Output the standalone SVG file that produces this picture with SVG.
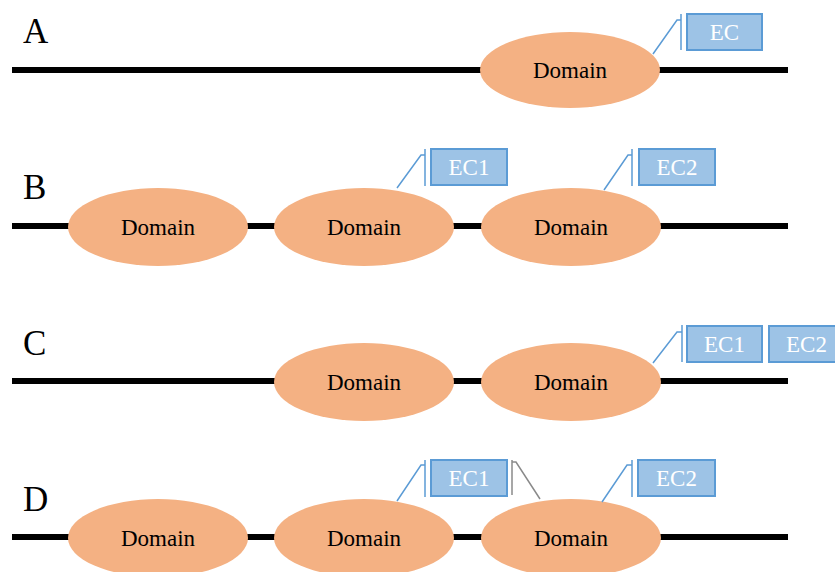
<svg xmlns="http://www.w3.org/2000/svg" width="835" height="572" viewBox="0 0 835 572">
<style>
.bb{stroke:#000;stroke-width:6;fill:none}
.dom ellipse{fill:#F4B183;stroke:none}
.dom text{font-family:"Liberation Serif",serif;font-size:23px;fill:#000;text-anchor:middle}
.lbl{font-family:"Liberation Serif",serif;font-size:35px;fill:#000}
.ec rect{fill:#9DC3E6;stroke:#5B9BD5;stroke-width:2}
.ec text{font-family:"Liberation Serif",serif;font-size:23px;fill:#fff;text-anchor:middle}
.co{stroke:#5B9BD5;stroke-width:1.5;fill:none}
.cg{stroke:#8a8a8a;stroke-width:1.5;fill:none}
</style>
<rect width="835" height="572" fill="#fff"/>
<g id="backbones">
<line class="bb" x1="12" y1="70" x2="788" y2="70"/>
<line class="bb" x1="12" y1="226" x2="788" y2="226"/>
<line class="bb" x1="12" y1="381" x2="788" y2="381"/>
<line class="bb" x1="12" y1="537" x2="788" y2="537"/>
</g>
<g id="labels">
<text class="lbl" x="23" y="43">A</text>
<text class="lbl" x="23" y="199">B</text>
<text class="lbl" x="23" y="355">C</text>
<text class="lbl" x="23" y="511">D</text>
</g>
<g id="A-domain" class="dom"><ellipse cx="570" cy="70" rx="90" ry="38"/><text x="570" y="78">Domain</text></g>
<g id="B-domain1" class="dom"><ellipse cx="158" cy="227" rx="90" ry="39"/><text x="158" y="235">Domain</text></g>
<g id="B-domain2" class="dom"><ellipse cx="364" cy="227" rx="90" ry="39"/><text x="364" y="235">Domain</text></g>
<g id="B-domain3" class="dom"><ellipse cx="571" cy="227" rx="90" ry="39"/><text x="571" y="235">Domain</text></g>
<g id="C-domain1" class="dom"><ellipse cx="364" cy="382" rx="90" ry="39"/><text x="364" y="390">Domain</text></g>
<g id="C-domain2" class="dom"><ellipse cx="571" cy="382" rx="90" ry="39"/><text x="571" y="390">Domain</text></g>
<g id="D-domain1" class="dom"><ellipse cx="158" cy="538" rx="90" ry="39"/><text x="158" y="546">Domain</text></g>
<g id="D-domain2" class="dom"><ellipse cx="364" cy="538" rx="90" ry="39"/><text x="364" y="546">Domain</text></g>
<g id="D-domain3" class="dom"><ellipse cx="571" cy="538" rx="90" ry="39"/><text x="571" y="546">Domain</text></g>
<g id="connectors">
<polyline class="co" points="653,54 677,20 681,20"/><line class="co" x1="681" y1="14" x2="681" y2="50"/>
<polyline class="co" points="397,188 421,155 425,155"/><line class="co" x1="425" y1="149" x2="425" y2="186"/>
<polyline class="co" points="604,190 628,155 632,155"/><line class="co" x1="632" y1="149" x2="632" y2="186"/>
<polyline class="co" points="653,363 677,332 682,332"/><line class="co" x1="682" y1="325" x2="682" y2="362"/>
<polyline class="co" points="397,501 421,465 425,465"/><line class="co" x1="425" y1="460" x2="425" y2="497"/>
<polyline class="cg" points="512,462 516,462 540,499"/><line class="cg" x1="512" y1="460" x2="512" y2="495"/>
<polyline class="co" points="602,502 627,465 632,465"/><line class="co" x1="632" y1="460" x2="632" y2="497"/>
</g>
<g id="A-EC" class="ec"><rect x="687" y="14" width="75" height="36"/><text x="724.5" y="40">EC</text></g>
<g id="B-EC1" class="ec"><rect x="431" y="149" width="76" height="36"/><text x="469" y="175">EC1</text></g>
<g id="B-EC2" class="ec"><rect x="639" y="149" width="76" height="36"/><text x="677" y="175">EC2</text></g>
<g id="C-EC1" class="ec"><rect x="687" y="326" width="75" height="36"/><text x="724.5" y="352">EC1</text></g>
<g id="C-EC2" class="ec"><rect x="769" y="326" width="75" height="36"/><text x="806.5" y="352">EC2</text></g>
<g id="D-EC1" class="ec"><rect x="431" y="460" width="76" height="36"/><text x="469" y="486">EC1</text></g>
<g id="D-EC2" class="ec"><rect x="638" y="460" width="77" height="36"/><text x="676.5" y="486">EC2</text></g>
</svg>
